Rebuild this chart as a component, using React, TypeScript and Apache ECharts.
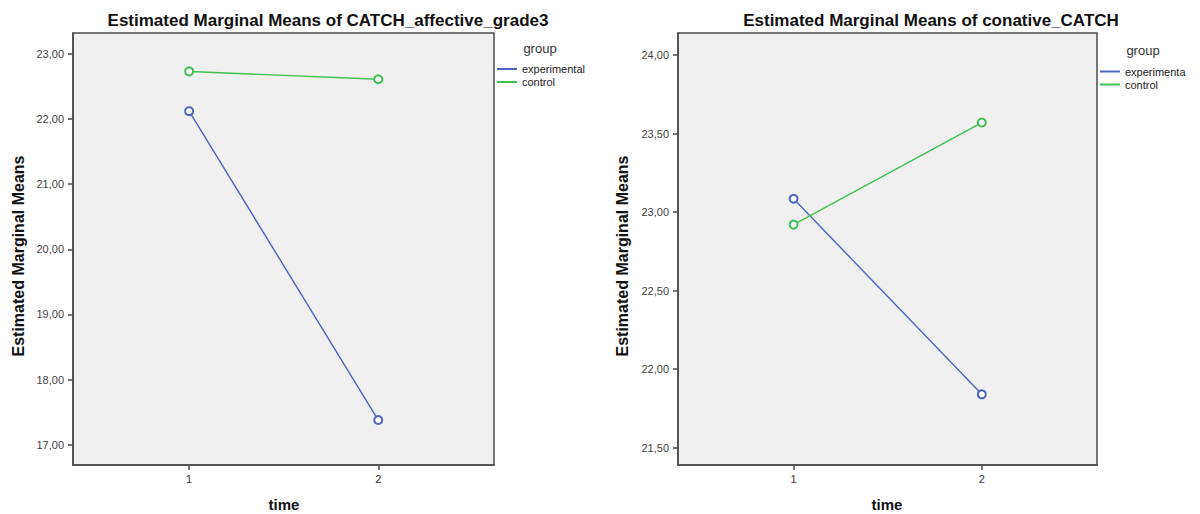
import React, { useEffect, useRef } from "react";
import * as echarts from "echarts";

const timePoints = [1, 2];
const timeLabels = ["1", "2"];
const groupNames = ["experimental", "control"];

const leftTitle = "Estimated Marginal Means of CATCH_affective_grade3";
const leftExperimental = [22.12, 17.38];
const leftControl = [22.73, 22.61];
const leftYTicks = [17, 18, 19, 20, 21, 22, 23];

const rightTitle = "Estimated Marginal Means of conative_CATCH";
const rightExperimental = [23.085, 21.84];
const rightControl = [22.92, 23.57];
const rightYTicks = [21.5, 22, 22.5, 23, 23.5, 24];

const FONT = "'Liberation Sans', Arial, sans-serif";
const BLUE = "#4c63c2";
const GREEN = "#3fc052";
const AXIS = "#4a4a4a";

function App() {
  const ref = useRef<HTMLDivElement>(null);

  useEffect(() => {
    if (!ref.current) return;
    const chart = echarts.init(ref.current, undefined, { renderer: "svg" });

    const fmt = (v: number) => v.toFixed(2).replace(".", ",");

    const xAxisBase = (gridIndex: number) => ({
      type: "value",
      gridIndex,
      min: 0.386,
      max: 2.612,
      axisLine: { show: true, onZero: false, lineStyle: { color: AXIS, width: 1.5 } },
      axisTick: {
        show: true,
        inside: false,
        length: 5,
        customValues: timePoints,
        lineStyle: { color: AXIS, width: 1.5 },
      },
      axisLabel: {
        customValues: timePoints,
        formatter: (v: number) => timeLabels[timePoints.indexOf(v)] ?? String(v),
        color: "#333",
        fontSize: 11,
        fontFamily: FONT,
        margin: 8,
      },
      splitLine: { show: false },
    });

    const yAxisBase = (gridIndex: number, min: number, max: number, ticks: number[]) => ({
      type: "value",
      gridIndex,
      min,
      max,
      axisLine: { show: true, onZero: false, lineStyle: { color: AXIS, width: 1.5 } },
      axisTick: {
        show: true,
        inside: false,
        length: 5,
        customValues: ticks,
        lineStyle: { color: AXIS, width: 1.5 },
      },
      axisLabel: {
        customValues: ticks,
        formatter: fmt,
        color: "#444",
        fontSize: 11,
        fontFamily: FONT,
        margin: 9,
      },
      splitLine: { show: false },
    });

    const mkSeries = (
      name: string,
      vals: number[],
      color: string,
      idx: number
    ) => ({
      type: "line",
      name,
      xAxisIndex: idx,
      yAxisIndex: idx,
      data: timePoints.map((t, i) => [t, vals[i]]),
      symbol: "emptyCircle",
      symbolSize: 8,
      itemStyle: { color, borderWidth: 1.1 },
      lineStyle: { color, width: 1.4 },
      emphasis: { disabled: true },
    });

    const legendBase = {
      orient: "vertical",
      itemWidth: 20,
      itemHeight: 2,
      icon: "rect",
      itemGap: 0,
      padding: 0,
      selectedMode: false,
      data: groupNames,
      textStyle: { fontSize: 11, color: "#222", fontFamily: FONT, lineHeight: 13 },
    };

    const txt = (
      text: string,
      x: number,
      y: number,
      size: number,
      bold: boolean,
      rotation = 0
    ) => ({
      type: "text",
      x,
      y,
      rotation,
      style: {
        text,
        fontSize: size,
        fontWeight: bold ? "bold" : "normal",
        fontFamily: FONT,
        fill: bold ? "#111" : "#333",
        textAlign: "center",
        textVerticalAlign: "middle",
      },
    });

    chart.setOption({
      animation: false,
      backgroundColor: "#ffffff",
      grid: [
        {
          left: 73,
          top: 33,
          width: 421,
          height: 432,
          show: true,
          backgroundColor: "#f0f0f0",
          borderColor: AXIS,
          borderWidth: 1.5,
        },
        {
          left: 678,
          top: 33,
          width: 419,
          height: 432,
          show: true,
          backgroundColor: "#f0f0f0",
          borderColor: AXIS,
          borderWidth: 1.5,
        },
      ],
      xAxis: [xAxisBase(0), xAxisBase(1)],
      yAxis: [
        yAxisBase(0, 16.69, 23.32, leftYTicks),
        yAxisBase(1, 21.39, 24.14, rightYTicks),
      ],
      legend: [
        { ...legendBase, left: 497, top: 62.5 },
        {
          ...legendBase,
          left: 1100,
          top: 65,
          formatter: (n: string) => (n === "experimental" ? "experimenta" : n),
        },
      ],
      series: [
        mkSeries(groupNames[0], leftExperimental, BLUE, 0),
        mkSeries(groupNames[1], leftControl, GREEN, 0),
        mkSeries(groupNames[0], rightExperimental, BLUE, 1),
        mkSeries(groupNames[1], rightControl, GREEN, 1),
      ],
      graphic: [
        txt(leftTitle, 328, 20, 17, true),
        txt(rightTitle, 931, 20, 17, true),
        txt("Estimated Marginal Means", 18, 256, 16, true, Math.PI / 2),
        txt("Estimated Marginal Means", 622, 256, 16, true, Math.PI / 2),
        txt("time", 284, 504, 15, true),
        txt("time", 887, 504, 15, true),
        txt("group", 540, 48, 13, false),
        txt("group", 1143, 50, 13, false),
      ],
    });

    return () => chart.dispose();
  }, []);

  return (
    <div
      ref={ref}
      style={{ position: "absolute", left: 0, top: 0, width: 1200, height: 514 }}
    />
  );
}

export default App;
